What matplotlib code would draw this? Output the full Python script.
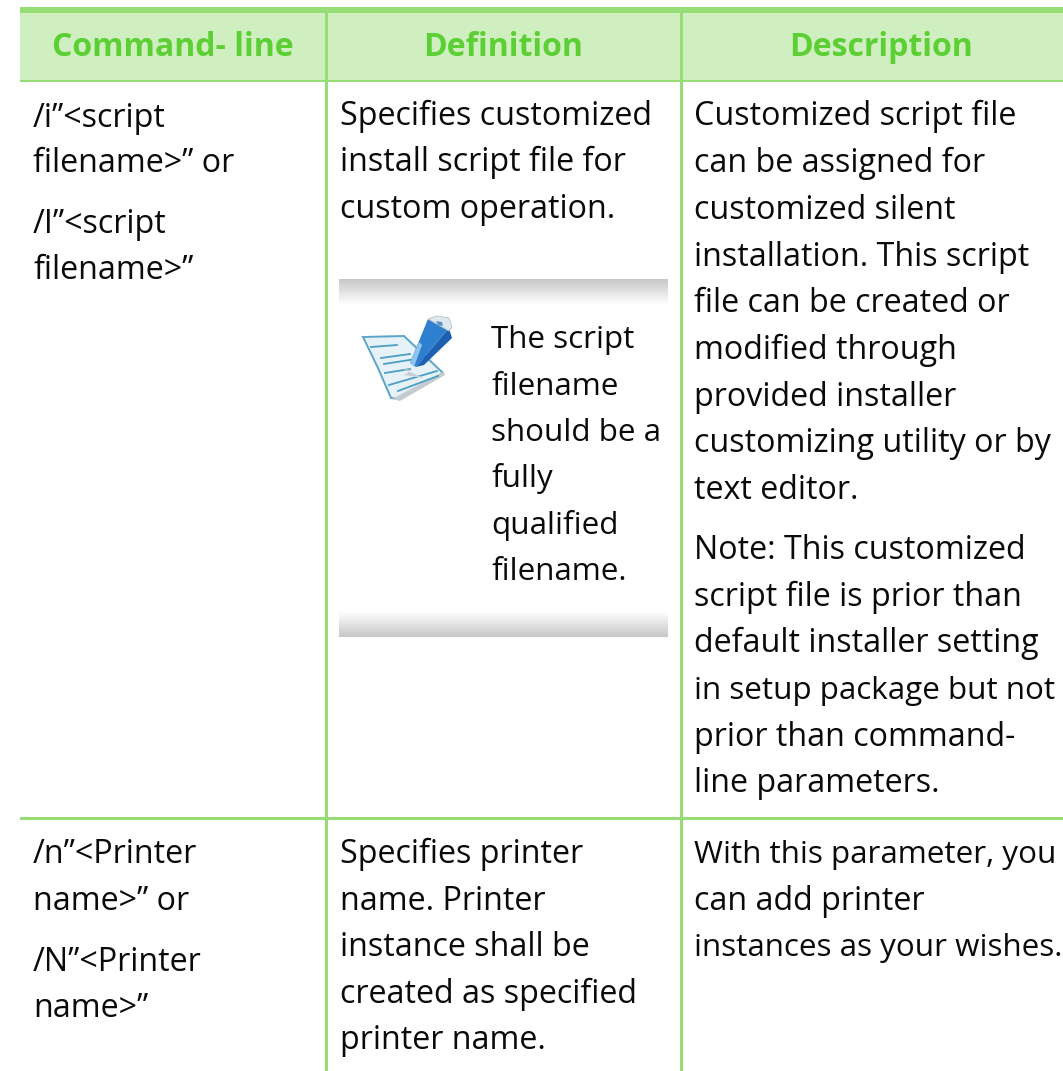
import numpy as np
import matplotlib
matplotlib.use('Agg')
import matplotlib.pyplot as plt
from matplotlib.patches import Polygon, Rectangle

W, H = 1063, 1071
FONT = 'Open Sans'
LINE = '#96dd75'
HEAD_BG = '#cfefc0'
HEAD_TXT = '#5ccf35'

headers = ['Command- line', 'Definition', 'Description']
header_x = [172.5, 503.5, 881]

col1_row1 = ['/i”<script', 'filename>” or', '/I”<script', 'filename>”']
col1_row1_y = [127, 172, 233, 279]
col2_row1 = ['Specifies customized', 'install script file for', 'custom operation.']
col2_row1_y = [125, 171, 218]
col3_row1 = ['Customized script file', 'can be assigned for', 'customized silent',
             'installation. This script', 'file can be created or', 'modified through',
             'provided installer', 'customizing utility or by', 'text editor.',
             'Note: This customized', 'script file is prior than',
             'default installer setting', 'in setup package but not',
             'prior than command-', 'line parameters.']
col3_row1_y = [125, 172, 219, 266, 312, 359, 406, 452, 499,
               559, 606, 652, 699, 746, 792]
note_text = ['The script', 'filename', 'should be a', 'fully', 'qualified', 'filename.']
note_y = [348, 395, 441, 487, 534, 580]

col1_row2 = ['/n”<Printer', 'name>” or', '/N”<Printer', 'name>”']
col1_row2_y = [863, 910, 971, 1017]
col2_row2 = ['Specifies printer', 'name. Printer', 'instance shall be',
             'created as specified', 'printer name.']
col2_row2_y = [863, 910, 956, 1003, 1049]
col3_row2 = ['With this parameter, you', 'can add printer', 'instances as your wishes.']
col3_row2_y = [863, 910, 956]

# lines that are set tighter in the reference
tight_lines = ['With this parameter, you', 'instances as your wishes.',
               'in setup package but not']

fig = plt.figure(figsize=(W / 100, H / 100), dpi=100)
ax = fig.add_axes([0, 0, 1, 1])
ax.set_xlim(0, W)
ax.set_ylim(H, 0)
ax.axis('off')

# table frame
ax.add_patch(Rectangle((20, 7), W - 20, 74, fc=HEAD_BG, ec='none'))
ax.add_patch(Rectangle((20, 7), W - 20, 6, fc=LINE, ec='none'))
ax.add_patch(Rectangle((20, 80), W - 20, 2, fc=LINE, ec='none'))
ax.add_patch(Rectangle((20, 817), W - 20, 3, fc=LINE, ec='none'))
ax.add_patch(Rectangle((325, 13), 2.6, H - 13, fc=LINE, ec='none'))
ax.add_patch(Rectangle((680, 13), 2.6, H - 13, fc=LINE, ec='none'))

for t, x in zip(headers, header_x):
    ax.text(x, 56, t, color=HEAD_TXT, fontsize=23, fontweight='bold', family=FONT,
            ha='center', va='baseline')


def put(lines, x, ys, size=23.2):
    for t, y in zip(lines, ys):
        s = 22.6 if t in tight_lines else size
        ax.text(x, y, t, color='#0a0a0a', fontsize=s, family=FONT, ha='left', va='baseline')


put(col1_row1, 33, col1_row1_y)
put(col2_row1, 340, col2_row1_y)
put(col3_row1, 694, col3_row1_y)
put(note_text, 491, note_y, size=22.6)
put(col1_row2, 33, col1_row2_y)
put(col2_row2, 340, col2_row2_y)
put(col3_row2, 694, col3_row2_y)

# grey bands of the note box
grad = np.linspace(0.78, 1.0, 64).reshape(-1, 1)
ax.imshow(grad, extent=(339, 668, 305, 279), cmap='gray', vmin=0, vmax=1, aspect='auto', zorder=1)
ax.imshow(grad[::-1], extent=(339, 668, 637, 611), cmap='gray', vmin=0, vmax=1, aspect='auto', zorder=1)
ax.set_xlim(0, W)
ax.set_ylim(H, 0)

# note icon: sheet of paper with pencil
ax.add_patch(Polygon([(363, 337), (404, 336), (443, 373), (399, 399), (391, 398), (378, 368)],
                     fc='#e6f1f8', ec='#5aa5c8', lw=1.4, zorder=2))
ax.add_patch(Polygon([(392, 399), (400, 401), (445, 375), (443, 372)], fc='#c4ccd2', ec='none', zorder=2))
for (x0, y0, x1, y1) in [(371, 347, 397, 345), (381, 358, 410, 354), (384, 364, 422, 358),
                         (385, 373, 410, 369), (389, 385, 437, 371), (398, 391, 438, 376)]:
    ax.plot([x0, x1], [y0, y1], color='#4b9fc4', lw=1.3, zorder=3)
ax.add_patch(Polygon([(403, 369), (412, 370), (404, 375), (424, 378)], fc='#c9ced2', ec='none', zorder=3))
ax.add_patch(Polygon([(410, 363), (428, 319), (449, 328), (416, 367)], fc='#2f7fd0', ec='none', zorder=4))
ax.add_patch(Polygon([(416, 367), (449, 328), (452, 338), (424, 365)], fc='#1d5fb0', ec='none', zorder=4))
ax.add_patch(Polygon([(410, 363), (419, 342), (422, 345), (414, 367)], fc='#8ec4ee', ec='none', zorder=5))
ax.add_patch(Polygon([(428, 319), (437, 316), (449, 318), (452, 327), (449, 331)],
                     fc='#dfe8ee', ec='#b5c2cb', lw=0.6, zorder=5))
ax.add_patch(Polygon([(436, 321), (442, 322), (443, 326), (438, 325)], fc='#5a93c0', ec='none', zorder=6))

fig.savefig('out.png', dpi=100)
